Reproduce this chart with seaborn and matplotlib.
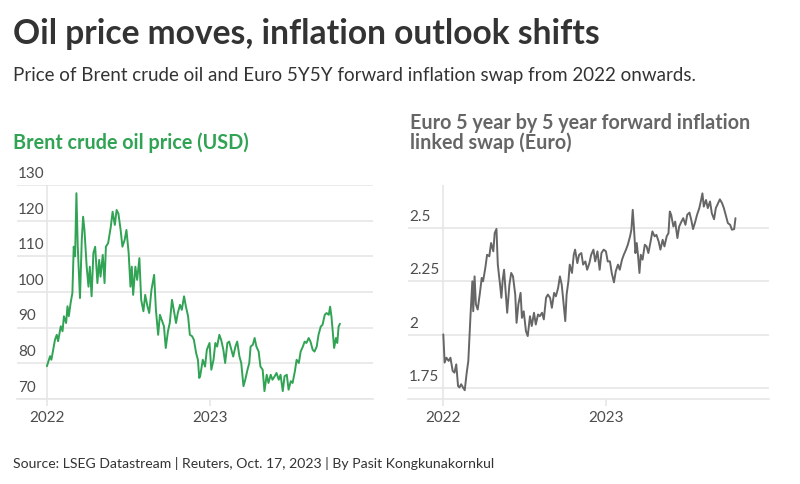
import pandas as pd
import numpy as np
import matplotlib
matplotlib.use('Agg')
import matplotlib.pyplot as plt
import matplotlib.transforms as mtransforms
import seaborn as sns

# Brent crude oil price (USD), days counted from 2022-01-01
brent_days = [0, 7, 10, 18, 22, 25, 31, 35, 38, 43, 46, 49, 53, 57, 60, 63, 66, 69, 74, 78,
              81, 84, 89, 93, 96, 100, 104, 108, 113, 117, 120, 125, 129, 132, 137, 143, 147, 152, 156, 160,
              165, 169, 174, 178, 183, 187, 190, 193, 198, 202, 207, 211, 216, 220, 225, 229, 234, 240, 244, 249,
              253, 257, 262, 266, 271, 275, 280, 284, 289, 293, 298, 302, 307, 311, 316, 320, 325, 329, 334, 338,
              341, 343, 349, 354, 358, 364, 368, 373, 377, 381, 386, 390, 395, 399, 404, 408, 413, 417, 422, 426,
              431, 435, 440, 444, 449, 453, 456, 461, 465, 469, 474, 478, 483, 487, 492, 496, 501, 505, 510, 514,
              519, 523, 528, 532, 537, 541, 546, 550, 555, 559, 564, 568, 573, 577, 581, 586, 590, 595, 599, 604,
              608, 613, 617, 622, 626, 631, 634, 637, 643, 647, 650, 653, 656]
brent_price = [79.2, 82.0, 81.0, 86.6, 88.0, 86.2, 90.4, 89.0, 93.2, 91.3, 96.0, 93.2, 96.9, 99.7, 112.7, 110.0, 127.7, 112.7, 98.3, 114.6,
               121.1, 117.4, 107.1, 101.5, 107.1, 98.8, 110.9, 112.7, 102.5, 109.0, 104.3, 110.4, 102.5, 112.7, 113.7, 118.3, 122.5, 118.8, 123.0, 122.0,
               117.4, 112.7, 114.6, 117.4, 110.9, 101.5, 107.1, 99.2, 107.1, 103.4, 109.5, 97.8, 94.6, 99.2, 96.0, 94.1, 100.6, 104.8, 95.0, 88.0,
               93.6, 92.2, 90.4, 84.3, 89.0, 91.3, 97.8, 95.0, 91.3, 94.1, 96.4, 95.0, 98.8, 96.0, 93.2, 88.0, 87.6, 86.6, 82.9, 81.0,
               75.9, 76.4, 81.0, 79.1, 83.8, 85.7, 78.2, 81.0, 85.7, 84.7, 88.0, 86.6, 83.8, 80.1, 85.7, 86.1, 83.8, 81.9, 84.7, 86.1,
               81.9, 80.1, 73.6, 75.4, 78.2, 80.1, 84.7, 85.2, 87.1, 84.7, 83.3, 79.1, 78.2, 72.2, 76.8, 74.5, 76.8, 75.4, 76.4, 77.3,
               75.4, 76.8, 72.2, 76.4, 76.8, 72.6, 75.0, 74.5, 77.7, 81.0, 80.1, 83.3, 84.7, 86.1, 85.7, 87.1, 86.1, 83.8, 83.3, 84.7,
               88.0, 90.3, 90.8, 93.6, 94.1, 93.6, 95.9, 93.1, 84.3, 87.1, 85.7, 90.3, 91.1]

# Euro 5y5y forward inflation linked swap, days counted from 2022-01-01
swap_days = [1, 4, 8, 13, 17, 22, 26, 30, 34, 37, 41, 45, 49, 53, 57, 62, 66, 68, 71, 74,
             78, 83, 87, 90, 95, 99, 104, 108, 113, 116, 120, 123, 128, 131, 134, 137, 141, 144, 149, 153,
             157, 162, 165, 169, 174, 177, 181, 186, 190, 195, 199, 204, 208, 213, 217, 222, 226, 231, 235, 240,
             244, 249, 253, 258, 262, 266, 269, 274, 277, 281, 284, 289, 293, 296, 301, 305, 310, 314, 319, 323,
             328, 332, 337, 341, 346, 351, 355, 360, 365, 369, 374, 378, 383, 387, 392, 396, 401, 405, 410, 414,
             419, 422, 425, 428, 431, 434, 437, 440, 443, 447, 452, 456, 460, 465, 469, 474, 478, 483, 487, 492,
             496, 501, 505, 508, 511, 516, 520, 525, 529, 534, 538, 543, 547, 552, 556, 560, 565, 569, 574, 578,
             581, 584, 589, 593, 598, 602, 607, 611, 616, 620, 625, 629, 634, 638, 643, 647, 652, 655]
swap_rate = [2.002, 1.870, 1.893, 1.878, 1.893, 1.831, 1.823, 1.862, 1.761, 1.754, 1.769, 1.754, 1.741, 1.816, 1.878, 2.095, 2.250, 2.110, 2.273, 2.142,
             2.118, 2.196, 2.266, 2.250, 2.312, 2.374, 2.367, 2.429, 2.390, 2.475, 2.495, 2.328, 2.235, 2.173, 2.258, 2.304, 2.188, 2.103, 2.235, 2.289,
             2.273, 2.188, 2.056, 2.142, 2.196, 2.079, 2.110, 2.017, 1.994, 2.087, 2.041, 2.103, 2.048, 2.095, 2.087, 2.103, 2.072, 2.173, 2.188, 2.173,
             2.126, 2.196, 2.180, 2.219, 2.273, 2.235, 2.173, 2.064, 2.188, 2.250, 2.328, 2.289, 2.374, 2.398, 2.335, 2.374, 2.382, 2.328, 2.343, 2.304,
             2.335, 2.374, 2.398, 2.343, 2.390, 2.304, 2.382, 2.398, 2.390, 2.343, 2.343, 2.289, 2.245, 2.297, 2.328, 2.304, 2.351, 2.374, 2.398, 2.421,
             2.460, 2.491, 2.584, 2.491, 2.382, 2.429, 2.367, 2.289, 2.374, 2.351, 2.421, 2.413, 2.382, 2.436, 2.483, 2.460, 2.467, 2.436, 2.398, 2.444,
             2.413, 2.460, 2.475, 2.576, 2.561, 2.506, 2.529, 2.452, 2.506, 2.529, 2.545, 2.514, 2.561, 2.571, 2.537, 2.494, 2.529, 2.561, 2.592, 2.630,
             2.661, 2.599, 2.630, 2.592, 2.623, 2.568, 2.540, 2.592, 2.615, 2.633, 2.615, 2.592, 2.553, 2.522, 2.514, 2.491, 2.494, 2.545]

brent_ticks = [70, 80, 90, 100, 110, 120, 130]
swap_ticks = [1.75, 2.0, 2.25, 2.5]
swap_tick_labels = ['1.75', '2', '2.25', '2.5']
year_ticks = ['2022-01-01', '2023-01-01']
year_labels = ['2022', '2023']

GREEN = '#31a354'
GREY_LINE = '#666666'
TEXT = '#333333'
TICK_TEXT = '#4d4d4d'
GRID = '#e6e6e6'

sns.set_style('white')
plt.rcParams['font.family'] = ['Lato', 'DejaVu Sans']

base = pd.Timestamp('2022-01-01')
df_brent = pd.DataFrame({'Date': base + pd.to_timedelta(brent_days, unit='D'), 'Price': brent_price})
df_swap = pd.DataFrame({'Date': base + pd.to_timedelta(swap_days, unit='D'), 'Rate': swap_rate})

fig = plt.figure(figsize=(8, 4.84), dpi=100)
W, H = 800, 484
ax1 = fig.add_axes([17 / W, 1 - 399 / H, (373 - 17) / W, (399 - 185) / H])
ax2 = fig.add_axes([408 / W, 1 - 399 / H, (769 - 408) / W, (399 - 185) / H])


def style_axis(ax, x_start, ylim, grid_vals, labels):
    ax.set_xlim(base + pd.Timedelta(days=x_start), pd.Timestamp('2024-01-01'))
    ax.set_ylim(*ylim)
    for s in ['top', 'right', 'left']:
        ax.spines[s].set_visible(False)
    ax.spines['bottom'].set_color(GRID)
    ax.spines['bottom'].set_linewidth(1.2)
    for v in grid_vals:
        ax.axhline(v, color=GRID, lw=1.2, zorder=0)
    ax.axvline(base, color=GRID, lw=1.2, zorder=0, ymin=0, ymax=1)
    ax.set_yticks([])
    ax.set_xticks(pd.to_datetime(year_ticks))
    ax.set_xticklabels(year_labels)
    ax.tick_params(axis='x', length=5, width=1.2, color=GRID, labelsize=11,
                   labelcolor=TICK_TEXT, pad=4, bottom=True)
    ax.set_xlabel('')
    ax.set_ylabel('')
    trans = mtransforms.blended_transform_factory(ax.transAxes, ax.transData)
    for v, lab in zip(grid_vals, labels):
        ax.annotate(lab, xy=(0.003, v), xycoords=trans, xytext=(0, 3), textcoords='offset points',
                    ha='left', va='bottom', fontsize=11, color=TICK_TEXT)


sns.lineplot(data=df_brent, x='Date', y='Price', ax=ax1, color=GREEN, lw=1.4)
style_axis(ax1, -67, (70, 130), brent_ticks, [str(t) for t in brent_ticks])

sns.lineplot(data=df_swap, x='Date', y='Rate', ax=ax2, color=GREY_LINE, lw=1.4)
style_axis(ax2, -78, (1.70, 2.70), swap_ticks, swap_tick_labels)

fig.text(13 / W, 1 - 34 / H, 'Oil price moves, inflation outlook shifts', fontsize=24.2,
         fontweight='bold', color=TEXT, va='center', ha='left')
fig.text(13 / W, 1 - 75 / H, 'Price of Brent crude oil and Euro 5Y5Y forward inflation swap from 2022 onwards.',
         fontsize=13.5, color=TEXT, va='center', ha='left')
fig.text(13 / W, 1 - 143 / H, 'Brent crude oil price (USD)', fontsize=14.2,
         fontweight='bold', color=GREEN, va='center', ha='left')
fig.text(410 / W, 1 - 133 / H, 'Euro 5 year by 5 year forward inflation\nlinked swap (Euro)', fontsize=14.2,
         fontweight='bold', color=GREY_LINE, va='center', ha='left', linespacing=1.0)
fig.text(13 / W, 1 - 464 / H, 'Source: LSEG Datastream | Reuters, Oct. 17, 2023 | By Pasit Kongkunakornkul',
         fontsize=10.1, color=TEXT, va='center', ha='left')

fig.savefig('out.png', dpi=100)
